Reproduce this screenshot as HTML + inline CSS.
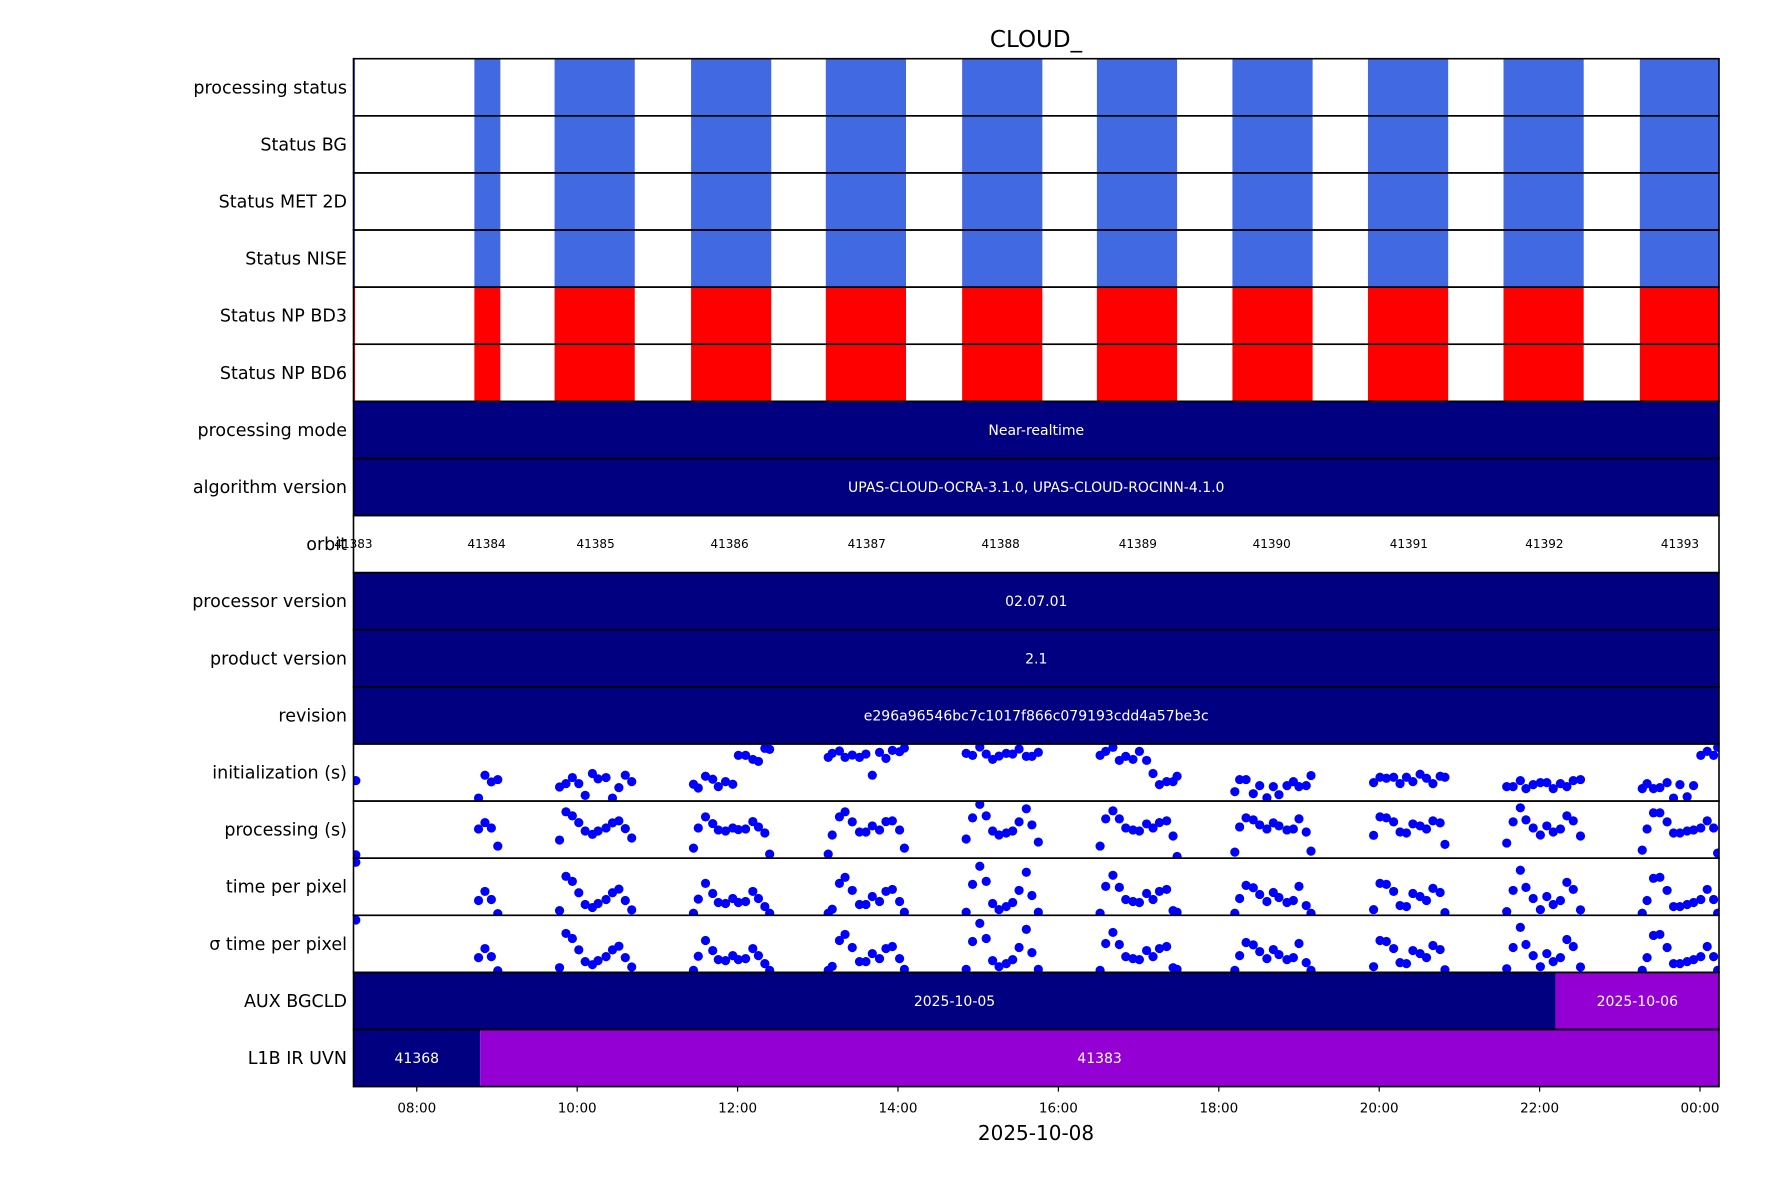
<!DOCTYPE html>
<html><head><meta charset="utf-8"><style>
html,body{margin:0;padding:0;background:#fff;}
svg{display:block;font-family:"Liberation Sans","DejaVu Sans",sans-serif;}
</style></head><body>
<svg id="chart" width="1771" height="1181" viewBox="0 0 1771 1181" xmlns="http://www.w3.org/2000/svg">
<text x="1036" y="47" font-size="23" text-anchor="middle" fill="#000" font-family="DejaVu Sans, sans-serif">CLOUD_</text>
<text x="1036" y="1140" font-size="20" text-anchor="middle" fill="#000" font-family="DejaVu Sans, sans-serif">2025-10-08</text>
</svg>
<script>
const rowLabels=["processing status","Status BG","Status MET 2D","Status NISE","Status NP BD3","Status NP BD6","processing mode","algorithm version","orbit","processor version","product version","revision","initialization (s)","processing (s)","time per pixel","σ time per pixel","AUX BGCLD","L1B IR UVN"];
const statusStarts=[7.21,8.718,9.718,11.42,13.10,14.80,16.48,18.17,19.86,21.55,23.25];
const statusEnds=[7.23,9.042,10.718,12.42,14.10,15.80,17.48,19.17,20.86,22.55,24.30];
const orbitTimes=[7.21,8.87,10.23,11.90,13.61,15.28,16.99,18.66,20.37,22.06,23.75];
const orbitNames=["41383","41384","41385","41386","41387","41388","41389","41390","41391","41392","41393"];
const textRows=[[6,"Near-realtime"],[7,"UPAS-CLOUD-OCRA-3.1.0, UPAS-CLOUD-ROCINN-4.1.0"],[9,"02.07.01"],[10,"2.1"],[11,"e296a96546bc7c1017f866c079193cdd4a57be3c"]];
const auxStarts=[7.21,22.20];
const auxEnds=[22.20,24.30];
const auxNames=["2025-10-05","2025-10-06"];
const auxColors=["#000080","#9400D3"];
const l1bStarts=[7.21,8.79];
const l1bEnds=[8.79,24.30];
const l1bNames=["41368","41383"];
const l1bColors=["#000080","#9400D3"];
const tickHours=[8,10,12,14,16,18,20,22,24];
const tickLabels=["08:00","10:00","12:00","14:00","16:00","18:00","20:00","22:00","00:00"];
const times=[7.24,
8.77,8.85,8.93,9.01,
9.78,9.86,9.94,10.02,10.10,10.19,10.26,10.36,10.44,10.52,10.60,10.68,
11.45,11.51,11.60,11.69,11.76,11.85,11.94,12.01,12.10,12.19,12.26,12.34,12.40,
13.13,13.18,13.27,13.34,13.43,13.52,13.60,13.68,13.77,13.85,13.93,14.02,14.08,
14.85,14.93,15.02,15.10,15.18,15.26,15.35,15.43,15.51,15.60,15.67,15.75,
16.52,16.59,16.68,16.76,16.84,16.93,17.01,17.10,17.18,17.26,17.35,17.43,17.48,
18.20,18.26,18.34,18.43,18.51,18.60,18.68,18.75,18.85,18.93,19.00,19.09,19.15,
19.93,20.01,20.09,20.18,20.26,20.34,20.42,20.51,20.59,20.67,20.76,20.82,
21.59,21.67,21.76,21.83,21.92,22.01,22.09,22.17,22.26,22.34,22.42,22.51,
23.28,23.34,23.42,23.50,23.59,23.67,23.75,23.84,23.92,24.01,24.09,24.17,24.22];
const initValues=[61,
9,77,57,64,
42,52,70,52,17,82,66,70,9,40,77,58,
50,39,74,65,43,58,50,136,136,124,118,157,154,
130,142,149,130,137,130,140,77,145,127,151,147,158,
142,136,161,140,124,134,142,140,155,133,133,145,
136,148,160,121,133,124,148,121,82,49,58,58,74,
28,64,64,22,46,10,43,19,46,58,43,46,76,
55,71,68,71,52,71,58,80,68,52,74,71,
43,43,61,37,49,55,55,37,52,43,61,64,
37,52,37,40,55,9,49,13,46,136,148,136,160];
const procValues=[10,
87,106,90,36,
54,138,126,106,81,71,81,90,105,111,88,60,
30,90,123,103,84,81,90,85,87,109,93,75,12,
12,69,123,138,108,78,78,96,84,109,111,84,30,
57,120,160,126,81,69,75,81,108,147,99,48,
36,117,141,117,90,84,81,102,90,106,111,66,5,
18,93,120,114,99,87,105,96,84,87,117,78,21,
68,123,120,108,78,75,102,96,87,111,105,41,
45,108,150,114,90,69,96,78,87,126,111,66,
24,87,135,135,108,75,75,81,84,90,111,90,15];
const tppValues=[158,
44,71,47,5,
14,116,101,67,32,23,35,47,67,78,44,16,
6,48,95,65,38,35,50,38,41,71,50,26,6,
6,18,95,113,74,32,32,56,41,71,77,41,9,
9,92,146,101,35,17,26,38,74,128,59,9,
6,86,119,83,47,41,38,65,47,71,77,14,9,
6,50,89,82,62,41,68,53,38,44,86,29,6,
17,95,92,71,29,26,65,56,44,80,68,8,
11,74,134,83,50,17,56,32,44,98,77,16,
6,44,110,113,74,26,26,32,38,47,77,47,6];
const sigmaValues=[156,
44,71,47,5,
14,116,101,67,32,23,35,47,67,78,44,16,
6,48,95,65,38,35,50,38,41,71,50,26,6,
6,18,95,113,74,32,32,56,41,71,77,41,9,
9,92,146,101,35,17,26,38,74,128,59,9,
6,86,119,83,47,41,38,65,47,71,77,14,9,
6,50,89,82,62,41,68,53,38,44,86,29,6,
17,95,92,71,29,26,65,56,44,80,68,8,
11,74,134,83,50,17,56,32,44,98,77,16,
6,44,110,113,74,26,26,32,38,47,77,47,6];

const NS="http://www.w3.org/2000/svg";
const svg=document.getElementById('chart');
const L=353.5,R=1719,T=58.7,B=1086.6,N=rowLabels.length,RH=(B-T)/N;
const H0=7.211,H1=24.237;
function xs(h){return L+(h-H0)/(H1-H0)*(R-L);}
function rowTop(i){return T+i*RH;}
function yv(i,v){return rowTop(i)+RH-(v/170)*RH;}
function mk(tag,attrs,parent){const e=document.createElementNS(NS,tag);for(const k in attrs)e.setAttribute(k,attrs[k]);(parent||svg).appendChild(e);return e;}
const defs=mk('defs',{});
const cp=mk('clipPath',{id:'plotclip'},defs);
mk('rect',{x:L,y:T,width:R-L,height:B-T},cp);
const plot=mk('g',{'clip-path':'url(#plotclip)'});



for(let r=0;r<6;r++){
  const color=r<4?'#4169E1':'#FF0000';
  for(let k=0;k<statusStarts.length;k++){
    const x0=xs(statusStarts[k]),x1=xs(statusEnds[k]);
    const e=mk('rect',{x:x0,y:rowTop(r),width:Math.max(1,x1-x0),height:RH,fill:color},plot);
    
    
  }
}
textRows.forEach(([r,t])=>{
  const e=mk('rect',{x:L,y:rowTop(r),width:R-L,height:RH,fill:'#000080'},plot);
  
  
  const tx=mk('text',{x:(L+R)/2,y:rowTop(r)+RH/2+5,'font-size':'14','text-anchor':'middle',fill:'#fff','font-family':'DejaVu Sans, sans-serif'},plot);
  tx.textContent=t;
  
  
});
orbitTimes.forEach((h,k)=>{
  const tx=mk('text',{x:xs(h),y:rowTop(8)+RH/2+4,'font-size':'12','text-anchor':'middle',fill:'#000','font-family':'DejaVu Sans, sans-serif'});
  tx.textContent=orbitNames[k];
  
  
});
function segRow(r,starts,ends,names,colors,nm){
  for(let k=0;k<starts.length;k++){
    const x0=xs(starts[k]),x1=Math.min(R,xs(ends[k]));
    const e=mk('rect',{x:x0,y:rowTop(r),width:x1-x0,height:RH,fill:colors[k]},plot);
    
    
    const tx=mk('text',{x:(x0+x1)/2,y:rowTop(r)+RH/2+5,'font-size':'14','text-anchor':'middle',fill:'#fff','font-family':'DejaVu Sans, sans-serif'},plot);
    tx.textContent=names[k];
    
    
  }
}
segRow(16,auxStarts,auxEnds,auxNames,auxColors,'aux-bgcld');
segRow(17,l1bStarts,l1bEnds,l1bNames,l1bColors,'l1b-ir-uvn');
const series=[[12,initValues,'initialization'],[13,procValues,'processing'],[14,tppValues,'time-per-pixel'],[15,sigmaValues,'sigma-time-per-pixel']];
series.forEach(([r,vals,nm],si)=>{
  const c=mk('clipPath',{id:'rc'+si},defs);
  mk('rect',{x:L,y:rowTop(r),width:R-L,height:RH},c);
  const g=mk('g',{'clip-path':'url(#rc'+si+')'},plot);
  
  
  for(let k=0;k<times.length;k++){
    const d=mk('circle',{cx:xs(times[k]),cy:yv(r,vals[k]),r:4.6,fill:'#0000FF'},g);
    
    
  }
});
for(let r=0;r<N;r++){
  const e=mk('rect',{x:L,y:rowTop(r),width:R-L,height:RH,fill:'none',stroke:'#000','stroke-width':'1.6'});
  
  
  const tx=mk('text',{x:347,y:rowTop(r)+RH/2+6,'font-size':'17.5','text-anchor':'end',fill:'#000','font-family':'DejaVu Sans, sans-serif'});
  tx.textContent=rowLabels[r];
  
  
}
tickHours.forEach((h,k)=>{
  const x=xs(h);
  const t=mk('line',{x1:x,x2:x,y1:B,y2:B+5,stroke:'#000','stroke-width':'1.2'});
  
  
  const tx=mk('text',{x:x,y:B+26,'font-size':'13.5','text-anchor':'middle',fill:'#000','font-family':'DejaVu Sans, sans-serif'});
  tx.textContent=tickLabels[k];
  
  
});
</script>
</body></html>
